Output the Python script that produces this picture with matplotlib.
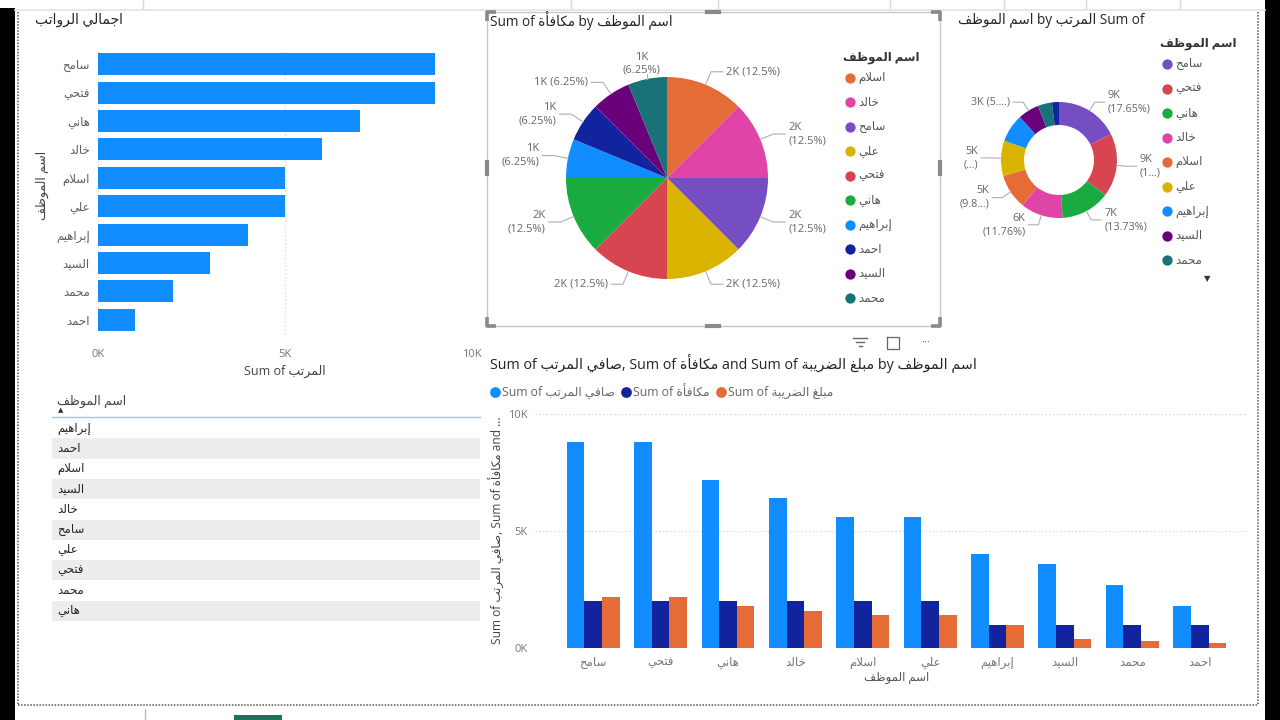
import re
import numpy as np
import matplotlib
matplotlib.use('Agg')
import matplotlib.pyplot as plt
from matplotlib.patches import Rectangle
from matplotlib.ticker import FuncFormatter

plt.rcParams['font.family'] = ['Open Sans', 'DejaVu Sans']

# ---------------- data ----------------
bar_names = ['سامح', 'فتحي', 'هاني', 'خالد', 'اسلام', 'علي', 'إبراهيم', 'السيد', 'محمد', 'احمد']
bar_salary = [9000, 9000, 7000, 6000, 5000, 5000, 4000, 3000, 2000, 1000]

table_names = ['إبراهيم', 'احمد', 'اسلام', 'السيد', 'خالد', 'سامح', 'علي', 'فتحي', 'محمد', 'هاني']

pie_names = ['اسلام', 'خالد', 'سامح', 'علي', 'فتحي', 'هاني', 'إبراهيم', 'احمد', 'السيد', 'محمد']
pie_bonus = [2000, 2000, 2000, 2000, 2000, 2000, 1000, 1000, 1000, 1000]

donut_names = ['سامح', 'فتحي', 'هاني', 'خالد', 'اسلام', 'علي', 'إبراهيم', 'السيد', 'محمد', 'احمد']
donut_salary = [9000, 9000, 7000, 6000, 5000, 5000, 4000, 3000, 2000, 1000]
donut_label_text = ['9K\n(17.65%)', '9K\n(1...)', '7K\n(13.73%)', '6K\n(11.76%)', '5K\n(9.8...)',
                    '5K\n(...)', None, '3K (5....)', None, None]
donut_legend_names = ['سامح', 'فتحي', 'هاني', 'خالد', 'اسلام', 'علي', 'إبراهيم', 'السيد', 'محمد']

col_names = ['سامح', 'فتحي', 'هاني', 'خالد', 'اسلام', 'علي', 'إبراهيم', 'السيد', 'محمد', 'احمد']
col_net = [8800, 8800, 7200, 6400, 5600, 5600, 4000, 3600, 2700, 1800]
col_bonus = [2000, 2000, 2000, 2000, 2000, 2000, 1000, 1000, 1000, 1000]
col_tax = [2200, 2200, 1800, 1600, 1400, 1400, 1000, 400, 300, 200]

palette = {'إبراهيم': '#118DFF', 'احمد': '#12239E', 'اسلام': '#E66C37', 'السيد': '#6B007B',
           'خالد': '#E044A7', 'سامح': '#744EC2', 'علي': '#D9B300', 'فتحي': '#D64550',
           'محمد': '#197278', 'هاني': '#1AAB40'}

# ---------------- Arabic shaping (presentation forms + visual order) ----------------
_forms = [('آ', 0xFE81, 0), ('أ', 0xFE83, 0), ('ؤ', 0xFE85, 0), ('إ', 0xFE87, 0), ('ئ', 0xFE89, 1),
          ('ا', 0xFE8D, 0), ('ب', 0xFE8F, 1), ('ة', 0xFE93, 0), ('ت', 0xFE95, 1), ('ث', 0xFE99, 1),
          ('ج', 0xFE9D, 1), ('ح', 0xFEA1, 1), ('خ', 0xFEA5, 1), ('د', 0xFEA9, 0), ('ذ', 0xFEAB, 0),
          ('ر', 0xFEAD, 0), ('ز', 0xFEAF, 0), ('س', 0xFEB1, 1), ('ش', 0xFEB5, 1), ('ص', 0xFEB9, 1),
          ('ض', 0xFEBD, 1), ('ط', 0xFEC1, 1), ('ظ', 0xFEC5, 1), ('ع', 0xFEC9, 1), ('غ', 0xFECD, 1),
          ('ف', 0xFED1, 1), ('ق', 0xFED5, 1), ('ك', 0xFED9, 1), ('ل', 0xFEDD, 1), ('م', 0xFEE1, 1),
          ('ن', 0xFEE5, 1), ('ه', 0xFEE9, 1), ('و', 0xFEED, 0), ('ى', 0xFEEF, 0), ('ي', 0xFEF1, 1)]
FORMS = {c: (b, d) for c, b, d in _forms}
LAMALEF = {'آ': 0xFEF5, 'أ': 0xFEF7, 'إ': 0xFEF9, 'ا': 0xFEFB}


def shape(word):
    ch = list(word)
    out = []
    i, n = 0, len(ch)
    while i < n:
        c = ch[i]
        if c not in FORMS:
            out.append(c)
            i += 1
            continue
        prev = ch[i - 1] if i > 0 else None
        jp = prev in FORMS and FORMS[prev][1] == 1
        if c == 'ل' and i + 1 < n and ch[i + 1] in LAMALEF:
            out.append(chr(LAMALEF[ch[i + 1]] + (1 if jp else 0)))
            i += 2
            continue
        base, dual = FORMS[c]
        nxt = ch[i + 1] if i + 1 < n else None
        jn = dual == 1 and nxt in FORMS
        if jp and jn:
            code = base + 3
        elif jp:
            code = base + 1
        elif jn:
            code = base + 2
        else:
            code = base
        out.append(chr(code))
        i += 1
    return ''.join(out)


AR_RUN = re.compile(r'[\u0600-\u06FF]+(?:[ ]+[\u0600-\u06FF]+)*')


def vis(s):
    return AR_RUN.sub(lambda m: shape(m.group(0))[::-1], s)


# ---------------- figure ----------------
W, H = 1280, 720
fig = plt.figure(figsize=(12.8, 7.2), dpi=100)
fig.patch.set_facecolor('white')


def px_axes(x0, y0, x1, y1):
    ax = fig.add_axes([x0 / W, 1 - y1 / H, (x1 - x0) / W, (y1 - y0) / H])
    ax.set_facecolor('none')
    return ax


bg = px_axes(0, 0, W, H)
bg.set_xlim(0, W)
bg.set_ylim(H, 0)
bg.axis('off')
bg.set_zorder(0)


def T(x, y, s, **kw):
    kw.setdefault('va', 'center')
    return bg.text(x, y, vis(s), **kw)


TITLE_C = '#252423'
LAB_C = '#605E5C'

# frame decorations
bg.add_patch(Rectangle((0, 8), 15, H - 8, color='black', lw=0))
bg.add_patch(Rectangle((1265, 0), 15, H, color='black', lw=0))
bg.plot([15, 1265], [10, 10], color='#e3e3e3', lw=1.2)
bg.plot([18, 18], [12, 705], color='#555555', lw=1.1, ls=(0, (1, 1)))
bg.plot([1258, 1258], [12, 705], color='#555555', lw=1.1, ls=(0, (1, 1)))
bg.plot([18, 1258], [705, 705], color='#555555', lw=1.1, ls=(0, (1, 1)))
bg.plot([145, 145], [709, 720], color='#bbbbbb', lw=1)
bg.add_patch(Rectangle((234, 715), 48, 5, color='#1e6f5c', lw=0))
for xv in [143, 571, 718, 890, 1004, 1086, 1180]:
    bg.plot([xv, xv], [0, 8], color='#d8d8d8', lw=1)

# ---------------- left horizontal bar chart ----------------
T(35, 20, 'اجمالي الرواتب', fontsize=10, color=TITLE_C)
ax1 = px_axes(98, 50, 472, 334)
ax1.set_zorder(1)
ypos = np.arange(len(bar_names))
ax1.barh(ypos, bar_salary, height=0.78, color='#118DFF', zorder=3)
ax1.set_xlim(0, 10000)
ax1.set_ylim(len(bar_names) - 0.5, -0.5)
ax1.set_xticks([0, 5000, 10000])
ax1.xaxis.set_major_formatter(FuncFormatter(lambda v, p: f'{v / 1000:.0f}K'))
ax1.set_yticks(ypos)
ax1.set_yticklabels([vis(n) for n in bar_names])
ax1.tick_params(axis='x', length=0, pad=11, labelsize=8, labelcolor='#777777')
ax1.tick_params(axis='y', length=0, pad=6, labelsize=8.5, labelcolor=LAB_C)
ax1.grid(axis='x', color='#d6d6d6', ls=(0, (1, 2)), lw=0.9, zorder=0)
for sp in ax1.spines.values():
    sp.set_visible(False)
T(285, 371, 'Sum of المرتب', fontsize=9, color='#444444', ha='center')
T(42, 185, 'اسم الموظف', fontsize=9, color='#444444', ha='center', rotation=90)

# ---------------- table ----------------
T(57, 401, 'اسم الموظف', fontsize=9, color='#444444', ha='left')
bg.text(61, 411, '▲', fontsize=5, color='#333333', ha='center', va='center')
row_h = 20.3
top = 418
for i, name in enumerate(table_names):
    if i % 2 == 1:
        bg.add_patch(Rectangle((52, top + i * row_h), 428, row_h, color='#ededed', lw=0))
    T(57, top + (i + 0.5) * row_h, name, fontsize=8.5, color='#252423', ha='left')
bg.plot([52, 480], [417, 417], color='#a9c4d4', lw=1)

# ---------------- pie chart ----------------
bg.plot([487, 940, 940, 487, 487], [12, 12, 326, 326, 12], color='#c8c8c8', lw=1)
hc = '#8a8a8a'
for (cx, cy, dx, dy) in [(487, 12, 1, 1), (940, 12, -1, 1), (487, 326, 1, -1), (940, 326, -1, -1)]:
    bg.plot([cx + dx * 9, cx, cx], [cy, cy, cy + dy * 9], color=hc, lw=2.6, solid_capstyle='butt')
bg.plot([707, 719], [12, 12], color=hc, lw=3)
bg.plot([707, 719], [326, 326], color=hc, lw=3)
bg.plot([487, 487], [162, 174], color=hc, lw=3)
bg.plot([940, 940], [162, 174], color=hc, lw=3)
# header icons
bg.plot([853, 867], [338, 338], color='#666666', lw=1)
bg.plot([856, 864], [342, 342], color='#666666', lw=1)
bg.plot([858.5, 861.5], [346, 346], color='#666666', lw=1)
bg.plot([887, 887, 899, 899, 887], [337, 349, 349, 337, 337], color='#666666', lw=0.9)
bg.text(926, 343, '···', fontsize=8, color='#666666', ha='center', va='center')

T(490, 20, 'Sum of مكافأة by اسم الموظف', fontsize=9.8, color=TITLE_C, ha='left')


def fmt_pct(p):
    return f'{p:.2f}'.rstrip('0').rstrip('.')


def wedge_labels(ax, wedges, texts, r_px, elbow_px, tail_px, fs):
    for w, t in zip(wedges, texts):
        if t is None:
            continue
        ang = np.deg2rad((w.theta1 + w.theta2) / 2)
        c, s = np.cos(ang), np.sin(ang)
        if abs(c) < 0.25:
            # label straight above / below the slice
            sgn = 1 if s >= 0 else -1
            p1 = (c, s + sgn * 5 / r_px)
            ax.plot([c, p1[0]], [s, p1[1]], color='#b0b0b0', lw=0.8, clip_on=False)
            ax.text(p1[0] - 6 / r_px, p1[1] - sgn * 2 / r_px, t, ha='center',
                    va='bottom' if sgn > 0 else 'top',
                    fontsize=fs, color='#666666', linespacing=1.3, clip_on=False)
            continue
        e = 1 + elbow_px / r_px
        p1 = (e * c, e * s)
        sign = 1 if c >= 0 else -1
        p2 = (p1[0] + sign * tail_px / r_px, p1[1])
        ax.plot([c, p1[0], p2[0]], [s, p1[1], p2[1]], color='#b0b0b0', lw=0.8, clip_on=False)
        ax.text(p2[0] + sign * 3 / r_px, p2[1], t, ha='left' if sign > 0 else 'right',
                va='center', fontsize=fs, color='#666666', linespacing=1.3, clip_on=False)


ax2 = px_axes(566, 77, 768, 279)
ax2.set_zorder(1)
wedges2, _ = ax2.pie(pie_bonus, colors=[palette[n] for n in pie_names], startangle=90,
                     counterclock=False, radius=1, wedgeprops=dict(linewidth=0))
ax2.set_xlim(-1, 1)
ax2.set_ylim(-1, 1)
ax2.set_aspect('equal')
tot2 = sum(pie_bonus)
pie_texts = []
for wdg, v in zip(wedges2, pie_bonus):
    ang = np.deg2rad((wdg.theta1 + wdg.theta2) / 2)
    lab = f'{v / 1000:.0f}K'
    pct = f'({fmt_pct(v / tot2 * 100)}%)'
    ca = abs(np.cos(ang))
    sep = ' ' if 0.25 <= ca < 0.6 else '\n'
    pie_texts.append(lab + sep + pct)
wedge_labels(ax2, wedges2, pie_texts, 101, 14, 12, 8)

# pie legend
T(843, 57, 'اسم الموظف', fontsize=8.5, color='#333333', ha='left', fontweight='bold')
for i, n in enumerate(pie_names):
    yy = 78 + i * 24.45
    bg.scatter([850], [yy], s=55, color=palette[n], lw=0, zorder=3)
    T(858, yy, n, fontsize=8.5, color='#555555', ha='left')

# ---------------- donut chart ----------------
T(958, 20, 'اسم الموظف by المرتب Sum of', fontsize=9.8, color=TITLE_C, ha='left')
ax4 = px_axes(1001, 102, 1117, 218)
ax4.set_zorder(1)
wedges4, _ = ax4.pie(donut_salary, colors=[palette[n] for n in donut_names], startangle=90,
                     counterclock=False, radius=1, wedgeprops=dict(width=23 / 58, linewidth=0))
ax4.set_xlim(-1, 1)
ax4.set_ylim(-1, 1)
ax4.set_aspect('equal')
wedge_labels(ax4, wedges4, donut_label_text, 58, 10, 10, 7.8)

T(1160, 44, 'اسم الموظف', fontsize=8.5, color='#333333', ha='left', fontweight='bold')
for i, n in enumerate(donut_legend_names):
    yy = 64 + i * 24.5
    bg.scatter([1167], [yy], s=55, color=palette[n], lw=0, zorder=3)
    T(1175, yy, n, fontsize=8.5, color='#555555', ha='left')
bg.text(1207, 280, '▼', fontsize=6, color='#333333', ha='center', va='center')

# ---------------- clustered column chart ----------------
T(490, 363, 'Sum of صافي المرتب, Sum of مكافأة and Sum of مبلغ الضريبة by اسم الموظف',
  fontsize=10.3, color=TITLE_C, ha='left')

series = [('Sum of صافي المرتب', col_net, '#118DFF'),
          ('Sum of مكافأة', col_bonus, '#12239E'),
          ('Sum of مبلغ الضريبة', col_tax, '#E66C37')]
renderer = fig.canvas.get_renderer()
lx = 495
for lab, _, colr in series:
    bg.scatter([lx], [392], s=60, color=colr, lw=0, zorder=3)
    t = T(lx + 7, 392, lab, fontsize=8.8, color='#666666', ha='left')
    bb = t.get_window_extent(renderer)
    lx = lx + 7 + bb.width + 11

ax3 = px_axes(535, 414, 1248, 648)
ax3.set_zorder(1)
xc = np.arange(len(col_names))
bw = 0.262
for k, (lab, vals, colr) in enumerate(series):
    ax3.bar(xc + (k - 1) * bw, vals, width=bw, color=colr, zorder=3)
ax3.set_xlim(-0.864, 9.717)
ax3.set_ylim(0, 10000)
ax3.set_yticks([0, 5000, 10000])
ax3.yaxis.set_major_formatter(FuncFormatter(lambda v, p: f'{v / 1000:.0f}K'))
ax3.set_xticks(xc)
ax3.set_xticklabels([vis(n) for n in col_names])
ax3.tick_params(axis='y', length=0, pad=5, labelsize=8, labelcolor='#777777')
ax3.tick_params(axis='x', length=0, pad=6, labelsize=8.5, labelcolor='#777777')
ax3.grid(axis='y', color='#d6d6d6', ls=(0, (1, 2)), lw=0.9, zorder=0)
for sp in ax3.spines.values():
    sp.set_visible(False)
T(897, 677, 'اسم الموظف', fontsize=8.5, color='#555555', ha='center')
T(497, 530, 'Sum of صافي المرتب, Sum of مكافأة and ...', fontsize=8.6, color='#444444',
  ha='center', rotation=90)

fig.savefig('out.png', dpi=100, facecolor='white')
